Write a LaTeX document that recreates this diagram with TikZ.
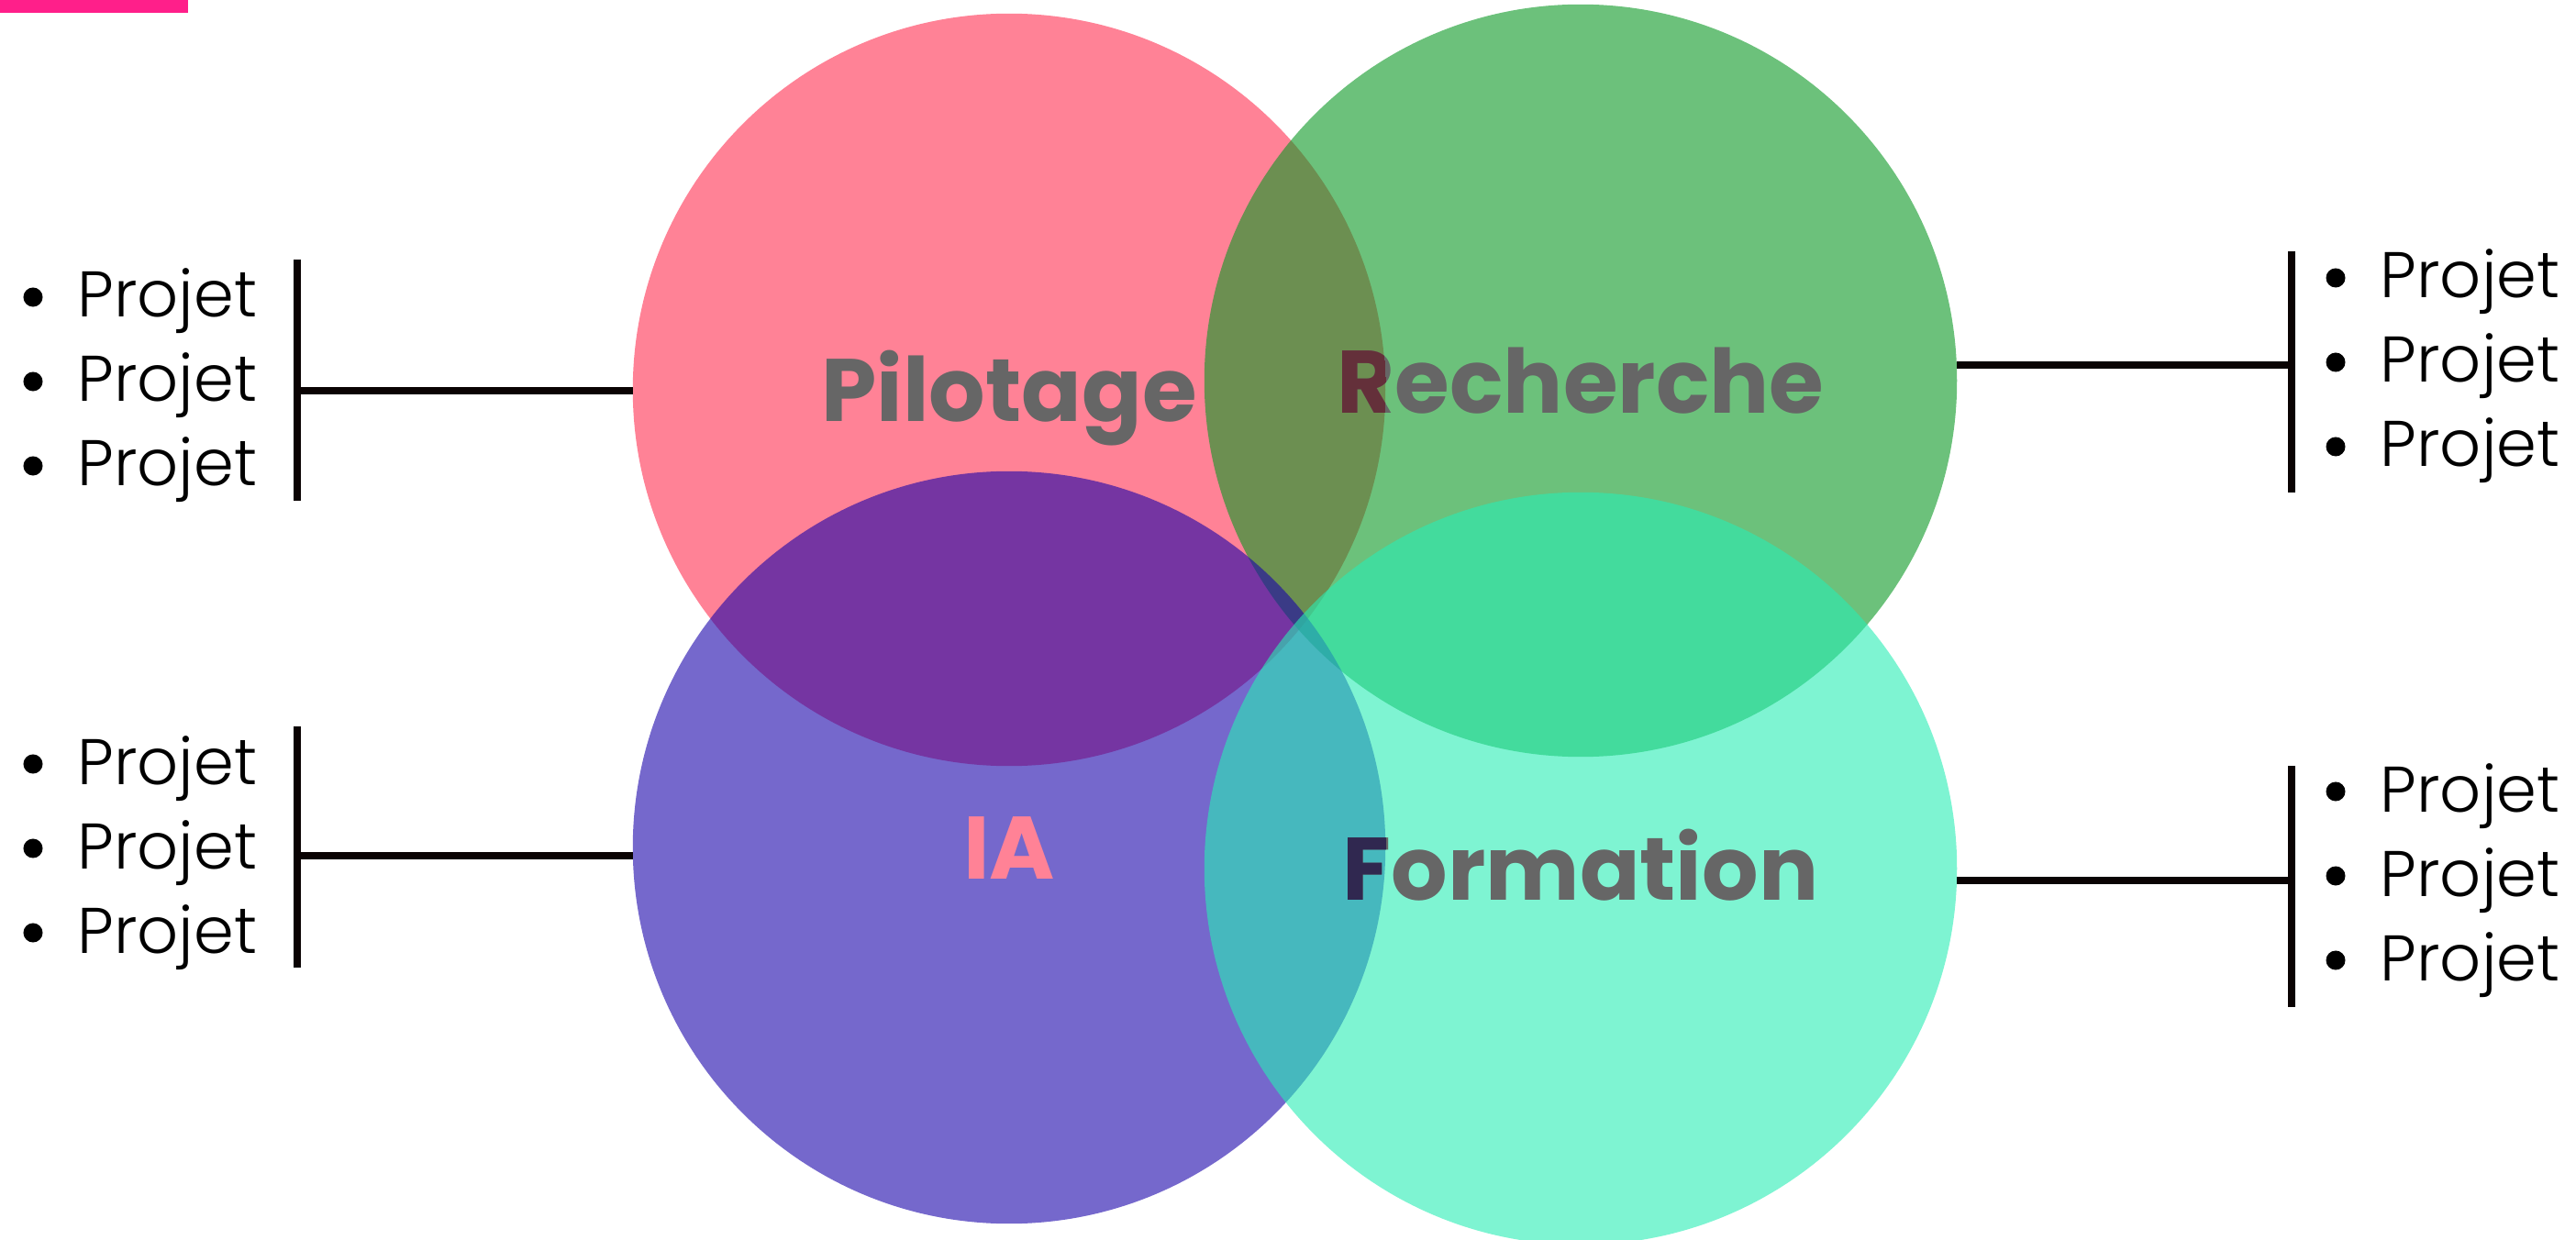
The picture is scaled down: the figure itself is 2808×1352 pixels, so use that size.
\documentclass[tikz,border=0pt]{standalone}
\usepackage{fontspec}
\setmainfont{Poppins}
\newfontfamily\itemfont{Poppins Light}
\definecolor{pilotpink}{HTML}{FF8296}
\definecolor{recgreen}{HTML}{0A9823}
\definecolor{iapurple}{HTML}{1903AA}
\definecolor{formteal}{HTML}{28EDB4}
\definecolor{labelgray}{HTML}{666666}
\definecolor{accent}{HTML}{FF1F8A}
\definecolor{shadeR}{HTML}{64303A}
\definecolor{shadeF}{HTML}{302850}
\definecolor{ink}{HTML}{0A0303}
\begin{document}
\begin{tikzpicture}[x=0.01cm,y=-0.01cm,
  disc/.style={circle, minimum size=8.2cm, inner sep=0pt, outer sep=0pt},
  title/.style={font=\fontsize{27.5}{27.5}\selectfont\bfseries, text=labelgray, inner sep=0pt, anchor=base},
  item/.style={font=\itemfont\fontsize{20}{20}\selectfont, inner sep=0pt, anchor=base west},
  dot/.style={circle, fill=black, inner sep=0pt, minimum size=0.21cm},
  bar/.style={draw=ink, line width=0.08cm}]

\useasboundingbox (0,0) rectangle (2808,1352);
\fill[accent] (0,0) rectangle (205,14);

% the four overlapping discs
\node[disc, fill=pilotpink] (pilot) at (1100,425) {};
\node[disc, fill=recgreen, fill opacity=0.6] (rech) at (1723,415) {};
\node[disc, fill=iapurple, fill opacity=0.6] (ia) at (1100,924) {};
\node[disc, fill=formteal, fill opacity=0.6] (form) at (1723,947) {};

% disc titles
\node[title] (pilot-label) at (1100,460) {Pilotage};
\node[title] (rech-label) at (1723,451) {Recherche};
\node[title, text=pilotpink] (ia-label) at (1100,958) {IA};
\node[title] (form-label) at (1723,981) {Formation};

% darker letter parts where a title crosses a neighbouring disc
\begin{scope}
  \clip (pilot.center) circle [radius=4.1cm];
  \node[title, text=shadeR] (rech-shade) at (1723,451) {Recherche};
\end{scope}
\begin{scope}
  \clip (ia.center) circle [radius=4.1cm];
  \node[title, text=shadeF] (form-shade) at (1723,981) {Formation};
\end{scope}

% brackets
\coordinate (lt-top) at (324,283);
\coordinate (lt-bot) at (324,546);
\coordinate (lt-mid) at (324,426);
\coordinate (lb-top) at (324,792);
\coordinate (lb-bot) at (324,1055);
\coordinate (lb-mid) at (324,933);
\coordinate (rt-top) at (2498,274);
\coordinate (rt-bot) at (2498,537);
\coordinate (rt-mid) at (2498,398);
\coordinate (rb-top) at (2498,835);
\coordinate (rb-bot) at (2498,1098);
\coordinate (rb-mid) at (2498,960);

\draw[bar] (lt-top) -- (lt-bot);
\draw[bar] (lt-mid -| pilot.west) -- (lt-mid);
\draw[bar] (lb-top) -- (lb-bot);
\draw[bar] (lb-mid -| ia.west) -- (lb-mid);
\draw[bar] (rt-top) -- (rt-bot);
\draw[bar] (rt-mid -| rech.east) -- (rt-mid);
\draw[bar] (rb-top) -- (rb-bot);
\draw[bar] (rb-mid -| form.east) -- (rb-mid);

% bullet lists
\foreach \name/\bx/\tx/\b in {lt/36/84/346, lb/36/84/855, rt/2546/2594/325, rb/2546/2594/885} {
  \foreach \i in {0,1,2} {
    \pgfmathsetmacro\yy{\b+92*\i}
    \node[dot] (\name-dot\i) at (\bx,\yy-22) {};
    \node[item] (\name-item\i) at (\tx,\yy) {Projet};
  }
}
\end{tikzpicture}
\end{document}
